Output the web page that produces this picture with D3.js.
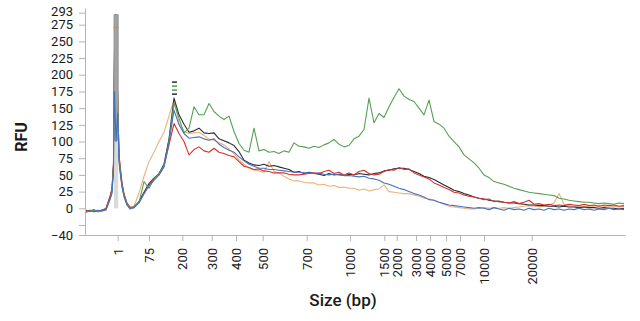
<html>
<head>
	<meta charset="utf-8">
	<title>Electropherogram</title>
</head>

<style>
body{
	margin: 0;
	background: #fff;
}
text{
	font-family: Roboto, "Noto Sans", sans-serif;
	fill: #1a1a1a;
}
.axis path, .axis line{
	stroke: #b4b4b4;
	stroke-width: 1px;
}
.trace{
	fill: none;
	stroke-width: 1.1px;
	stroke-linejoin: round;
}
</style>

<body>

<script src="https://cdn.jsdelivr.net/npm/d3@7/dist/d3.min.js" charset="utf-8"></script>
<script>

// ladder: fragment size (bp) and its migration time (s)
var ladderSize = [1, 75, 200, 300, 400, 500, 700, 1000, 1500, 2000, 3000, 4000, 5000, 7000, 10000, 20000];
var ladderTime = [6.54, 12.8, 19.46, 25.34, 30.2, 35.54, 44.34, 53.0, 59.86, 62.34, 66.2, 69.0, 72.2, 75.0, 79.8, 89.34];

var yTicks = [-40, -25, 0, 25, 50, 75, 100, 125, 150, 175, 200, 225, 250, 275, 293];
var yTickLabels = ["\u221240", "", "0", "25", "50", "75", "100", "125", "150", "175", "200", "225", "250", "275", "293"];

// sample times (s) shared by all traces
var migTime = [0.2, 1, 1.8, 2.6, 3.4, 4.2, 5.0,
	5.4, 5.7, 5.9, 6.2, 6.54, 6.8, 7.1, 7.4, 7.8, 8.4, 9.0,
	9.8, 10.8, 11.8, 12.8, 13.8, 14.8, 15.8, 16.8, 17.8, 18.8,
	19.8, 20.8, 21.8, 22.8, 23.8, 24.8, 25.8, 26.8, 27.8, 28.8,
	29.8, 30.8, 31.8, 32.8, 33.8, 34.8, 35.8, 36.8, 37.8, 38.8,
	39.8, 40.8, 41.8, 42.8, 43.8, 44.8, 45.8, 46.8, 47.8, 48.8,
	49.8, 50.8, 51.8, 52.8, 53.8, 54.8, 55.8, 56.8, 57.8, 58.8,
	59.8, 60.8, 61.8, 62.8, 63.8, 64.8, 65.8, 66.8, 67.8, 68.8,
	69.8, 70.8, 71.8, 72.8, 73.8, 74.8, 75.8, 76.8, 77.8, 78.8,
	79.8, 80.8, 81.8, 82.8, 83.8, 84.8, 85.8, 86.8, 87.8, 88.8,
	89.8, 90.8, 91.8, 92.8, 93.8, 94.8, 95.8, 96.8, 97.8, 98.8,
	99.8, 100.8, 101.8, 102.8, 103.8, 104.8, 105.8, 106.8, 107.8];

// RFU of each sample
var orangeRFU = [-3, -5, -3, -4, -2, -3, 12,
	25, 60, 220, 285, 160, 72, 50, 33, 17, 5, 0,
	3, 23, 48, 70, 84, 100, 114, 138, 163, 128,
	115, 112, 113, 114, 109, 104, 102, 98, 95, 89,
	82, 73, 66, 60, 57, 56, 54, 70, 55, 53,
	48, 44, 41, 41, 39, 38, 38, 35, 36, 33,
	34, 31, 32, 30, 30, 27, 29, 26, 28, 29,
	35, 25, 24, 23, 22, 22, 20, 18, 15, 14,
	12, 9, 6, 3, 2, 1, 0, -1, -1, 0,
	1, 0, 1, 0, 1, 0, 1, 2, 3, 4,
	3, 2, 3, 5, 8, 22, 6, 4, 3, 2,
	3, 2, 3, 4, 3, 2, 3, 2, 3];

var blackRFU = [-4, -3, -5, -4, -3, -1, 16,
	28, 65, 230, 290, 160, 78, 55, 36, 20, 6, 1,
	2, 10, 24, 37, 45, 52, 66, 104, 165, 140,
	126, 114, 116, 120, 113, 112, 113, 104, 101, 98,
	94, 85, 72, 68, 65, 64, 66, 63, 64, 62,
	60, 58, 54, 55, 52, 54, 52, 51, 49, 52,
	50, 51, 49, 51, 50, 52, 51, 50, 52, 53,
	56, 57, 59, 60, 60, 58, 55, 52, 48, 46,
	43, 39, 35, 31, 27, 25, 22, 20, 17, 15,
	14, 12, 11, 10, 9, 8, 8, 7, 6, 5,
	5, 4, 4, 3, 3, 2, 3, 2, 2, 1,
	2, 1, 1, 0, 1, 0, 0, -1, 0];

var redRFU = [-3, -4, -2, -5, -3, 0, 18,
	30, 68, 235, 290, 160, 80, 58, 38, 22, 8, 2,
	1, 9, 22, 35, 44, 50, 63, 95, 127, 112,
	100, 80, 88, 92, 86, 84, 90, 84, 82, 79,
	77, 70, 63, 61, 58, 59, 56, 55, 53, 53,
	53, 51, 50, 50, 51, 52, 53, 52, 55, 57,
	52, 54, 50, 53, 50, 55, 57, 52, 50, 51,
	55, 58, 57, 61, 58, 59, 53, 50, 47, 44,
	38, 35, 31, 28, 24, 23, 20, 18, 17, 15,
	13, 14, 10, 11, 9, 8, 10, 7, 9, 12,
	6, 7, 5, 6, 4, 5, 4, 6, 5, 4,
	6, 4, 5, 3, 5, 4, 5, 3, 4];

var greenRFU = [-5, -4, -3, -5, -4, -2, 14,
	26, 62, 225, 288, 160, 75, 52, 34, 19, 7, 0,
	2, 9, 40, 30, 44, 52, 64, 100, 158, 135,
	113, 120, 152, 140, 140, 157, 145, 138, 133, 138,
	115, 97, 87, 84, 120, 86, 88, 84, 85, 82,
	86, 84, 98, 93, 92, 90, 93, 91, 95, 98,
	103, 96, 92, 94, 104, 108, 118, 165, 128, 142,
	136, 152, 166, 179, 168, 163, 160, 150, 140, 162,
	130, 126, 120, 108, 100, 92, 80, 74, 68, 60,
	50, 46, 40, 38, 36, 33, 30, 28, 26, 24,
	23, 22, 21, 20, 19, 15, 14, 12, 11, 10,
	9, 9, 8, 7, 8, 7, 6, 8, 7];

var blueRFU = [-6, -4, -5, -3, -4, -2, 14,
	22, 60, 175, 100, 143, 70, 50, 32, 18, 5, -1,
	1, 8, 22, 34, 42, 50, 62, 98, 147, 125,
	112, 105, 106, 107, 104, 102, 104, 96, 91, 87,
	84, 77, 71, 66, 63, 60, 60, 58, 58, 57,
	56, 55, 54, 54, 53, 53, 52, 53, 51, 50,
	51, 50, 49, 49, 48, 47, 48, 45, 44, 42,
	38, 36, 33, 30, 28, 25, 22, 20, 17, 13,
	12, 9, 7, 5, 4, 3, 2, 1, 0, 1,
	0, -2, 1, -1, -3, 0, -2, -1, -3, 0,
	-2, -1, -3, 0, -2, -1, -3, -1, -2, 0,
	-2, -1, -3, -1, -2, 0, -2, -1, -2];

// saturated lower marker (grey band)
var markerTime = [5.8, 6.64];
var markerSplit = 102;
var markerTop = 290;

// small peak flags
var flagTime = [17.9, 17.9, 17.9, 17.9, 6.2];
var flagRFU = [189, 183, 177, 171, 271];
var flagColor = ["#2a2a36", "#4f9d4f", "#4f9d4f", "#2a2a36", "#d8864a"];

var width = 640;
var height = 321;

var svg = d3.select("body").append("svg")
			.attr("width", width)
			.attr("height", height);

var x = d3.scaleLinear().domain([0, 108]).range([85, 625]);
var y = d3.scaleLinear().domain([-40, 300]).range([235, 8]);

// axes
var xAxis = d3.axisBottom(x)
			.tickValues(ladderTime)
			.tickFormat(function(d, i){ return ladderSize[i]; })
			.tickSize(6)
			.tickSizeOuter(0);

var gx = svg.append("g")
	.attr("class", "axis")
	.attr("transform", "translate(0,235)")
	.call(xAxis);

gx.selectAll("text")
	.attr("transform", "rotate(-90)")
	.attr("text-anchor", "end")
	.attr("x", -13)
	.attr("y", 0)
	.attr("dy", "0.35em")
	.style("font-size", "13px");

var yAxis = d3.axisLeft(y)
			.tickValues(yTicks)
			.tickFormat(function(d, i){ return yTickLabels[i]; })
			.tickSize(6)
			.tickPadding(6)
			.tickSizeOuter(0);

var gy = svg.append("g")
	.attr("class", "axis")
	.attr("transform", "translate(85,0)")
	.call(yAxis);

gy.selectAll("text")
	.style("font-size", "13px");

// the top label sits very close to 275: lift it a little
gy.selectAll(".tick text")
	.filter(function(d){ return d === 293; })
	.attr("dy", "0.2em");

svg.selectAll(".domain").attr("stroke", "#b4b4b4");

// traces
var line = d3.line()
	.x(function(d){ return x(d[0]); })
	.y(function(d){ return y(d[1]); });

function drawTrace(values, color){
	svg.append("path")
		.datum(d3.zip(migTime, values))
		.attr("class", "trace")
		.attr("stroke", color)
		.attr("d", line);
}

drawTrace(orangeRFU, "#efb07e");
drawTrace(blackRFU, "#2a2a36");
drawTrace(redRFU, "#d9302c");
drawTrace(greenRFU, "#55a055");

// marker band on top of the saturated peaks
var band = d3.area()
	.x(function(d){ return x(d); });

svg.append("path")
	.datum(markerTime)
	.attr("fill", "#dadada")
	.attr("d", band.y0(y(0)).y1(y(markerSplit)));

svg.append("path")
	.datum(markerTime)
	.attr("fill", "#a3a3a3")
	.attr("stroke", "#8a8a8a")
	.attr("stroke-width", 0.8)
	.attr("d", band.y0(y(markerSplit)).y1(y(markerTop)));

drawTrace(blueRFU, "#4473bd");

// peak flags
svg.selectAll(".flag")
	.data(d3.range(flagTime.length))
	.enter().append("line")
	.attr("class", "flag")
	.attr("x1", function(i){ return x(flagTime[i]) - 2.5; })
	.attr("x2", function(i){ return x(flagTime[i]) + 2.5; })
	.attr("y1", function(i){ return y(flagRFU[i]); })
	.attr("y2", function(i){ return y(flagRFU[i]); })
	.attr("stroke", function(i){ return flagColor[i]; })
	.attr("stroke-width", 1.5);

// axis titles
svg.append("text")
	.attr("transform", "translate(27,137) rotate(-90)")
	.attr("text-anchor", "middle")
	.style("font-size", "16px")
	.style("font-weight", "bold")
	.text("RFU");

svg.append("text")
	.attr("x", 343)
	.attr("y", 306)
	.attr("text-anchor", "middle")
	.style("font-size", "17px")
	.style("font-weight", "500")
	.text("Size (bp)");

</script>
</body>
</html>
